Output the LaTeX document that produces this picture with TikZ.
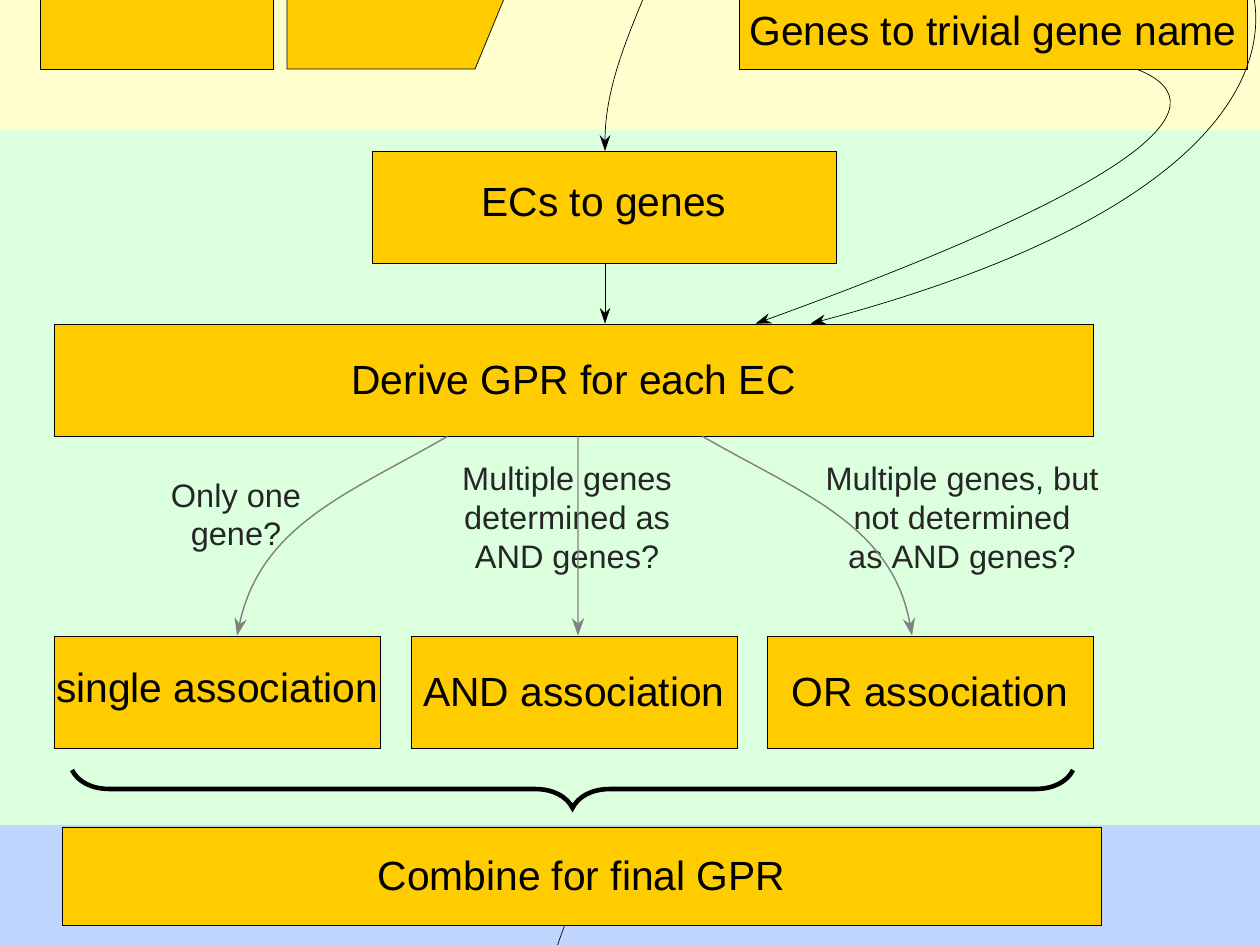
\documentclass[tikz,border=0pt]{standalone}
\usepackage{fontspec}
\setmainfont{Liberation Sans}
\usepackage{xcolor}
\usepackage{tikz}
\usetikzlibrary{arrows.meta, positioning, calc, decorations.pathreplacing}
\definecolor{boxfill}{RGB}{255,204,0}
\definecolor{mydark}{RGB}{0,0,0}
\definecolor{mygray}{RGB}{128,128,128}
\definecolor{bgyellow}{RGB}{255,255,206}
\definecolor{bggreen}{RGB}{220,255,222}
\definecolor{bgblue}{RGB}{192,214,255}
\tikzset{
  line/.style={draw=mydark, thin},
  arrow/.style={draw=mydark, -{Stealth[length=9pt, width=6pt]}, thin},
  grayarrow/.style={draw=mygray, -{Stealth[length=10pt, width=7pt]}, thick},
  block/.style={draw=mydark, fill=boxfill, rectangle, align=center, font=\fontsize{23.2}{27}\selectfont, minimum height=2.24cm, inner sep=0pt},
  cond/.style={align=center, font=\fontsize{18.5}{22}\selectfont, text=black!85, inner sep=0pt}
}

\begin{document}
\begin{tikzpicture}[x=0.02cm, y=0.02cm]
  \useasboundingbox (0,0) rectangle (1260,-945);
  \clip (0,0) rectangle (1260,-945);
  % bands
  \fill [bgyellow] (0,0) rectangle (1260,-130);
  \fill [bggreen] (0,-130) rectangle (1260,-825);
  \fill [bgblue] (0,-825) rectangle (1260,-945);

  % top row, cut off by the frame
  \node [block, minimum width=4.66cm] (src) at (156.5,-13) {};
  \draw [line, fill=boxfill] (287,-69) -- (287,40) -- (520,40) -- (475,-69) -- cycle;
  \coordinate (ecsrc) at (646,8);
  \node [block, minimum width=10.16cm, minimum height=0pt, text height=0.97cm, text depth=0.47cm] (triv) at (993,-33) {Genes to trivial gene name};
  \coordinate (trivsrc) at (1252,12);

  % middle
  \node [block, minimum width=9.28cm] (ecg) at (604,-207) {ECs to genes};
  \node [block, minimum width=20.78cm] (gpr) at (573.5,-380) {Derive GPR for each EC};

  \node [block, minimum width=6.52cm] (single) at (217,-692) {single association};
  \node [block, minimum width=6.52cm] (and) at (574,-692) {AND association};
  \node [block, minimum width=6.52cm] (or) at (930,-692) {OR association};

  \node [block, minimum width=20.78cm, minimum height=1.96cm] (comb) at (581.5,-876) {Combine for final GPR};
  \coordinate (out) at (554,-955);

  \node [cond] (q1) at (236,-518) {Only one\\gene?};
  \node [cond] (q2) at (567,-521) {Multiple genes\\determined as\\ AND genes?};
  \node [cond] (q3) at (962,-521) {Multiple genes, but\\not determined\\as AND genes?};

  \draw [arrow] (ecsrc) .. controls (626,-40) and (605,-90) .. (605,-151);
  \draw [arrow] (ecg.south -| 605,0) -- (gpr.north -| 605,0);
  \draw [arrow] ($(triv.south)+(144,0)$) .. controls (1215,-100) and (1180,-170) .. ($(gpr.north)+(182,0)$);
  \draw [arrow] (trivsrc) .. controls (1275,-80) and (1200,-220) .. ($(gpr.north)+(237,0)$);

  \draw [grayarrow] ($(gpr.south)+(-126,0)$) to[out=210, in=78] (single.north east -| 237,0);
  \draw [grayarrow] ($(gpr.south)+(4.5,0)$) -- (and.north -| 578,0);
  \draw [grayarrow] ($(gpr.south)+(129,0)$) to[out=-30, in=100] (or.north -| 912,0);

  \draw [decorate, decoration={brace, amplitude=0.76cm}, line width=2.6pt] (1073,-770) -- (72,-770);

  \draw [line] ($(comb.south)+(-17,0)$) -- (out);
\end{tikzpicture}
\end{document}
